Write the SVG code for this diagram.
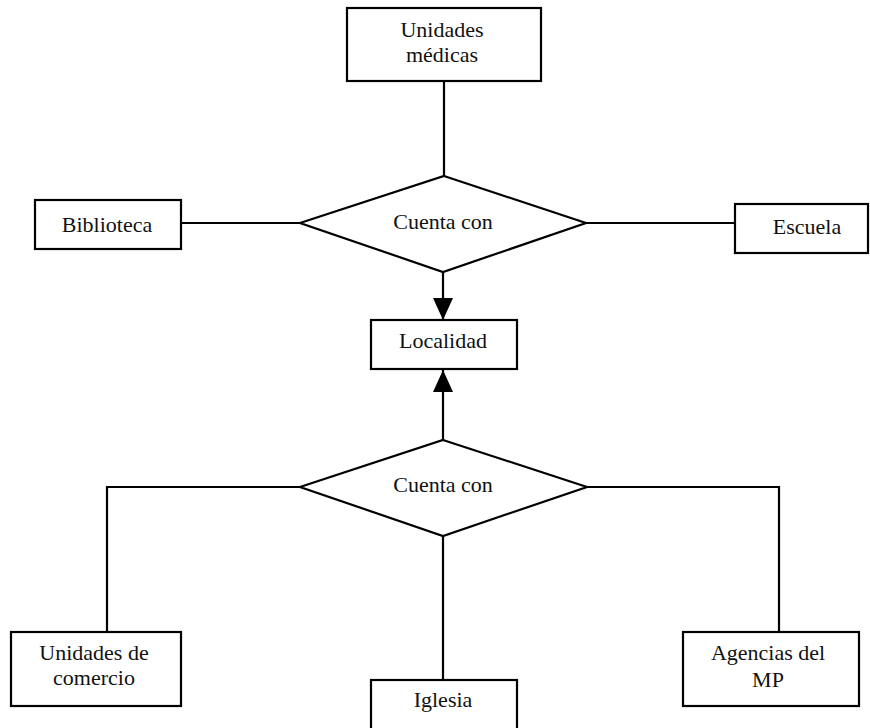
<svg xmlns="http://www.w3.org/2000/svg" width="870" height="728" viewBox="0 0 870 728">
  <style>
    .box { fill: #ffffff; stroke: #000000; stroke-width: 2.2; }
    .rel { fill: #ffffff; stroke: #000000; stroke-width: 2.2; }
    .link { fill: none; stroke: #000000; stroke-width: 2.2; }
    .label { font-family: 'Liberation Serif', 'DejaVu Serif', serif; font-size: 22px; fill: #111111; text-anchor: middle; }
  </style>
  <defs>
    <marker id="head" viewBox="0 0 22 20" refX="22" refY="10" markerWidth="22" markerHeight="20" markerUnits="userSpaceOnUse" orient="auto">
      <path d="M0,0 L22,10 L0,20 Z" fill="#000000"/>
    </marker>
  </defs>

  <g id="connectors">
    <!-- upper relationship -->
    <line class="link" x1="444" y1="81" x2="444" y2="176"/>
    <line class="link" x1="181" y1="223" x2="300" y2="223"/>
    <line class="link" x1="586" y1="223" x2="735" y2="223"/>
    <line class="link" x1="443" y1="272" x2="443" y2="320" marker-end="url(#head)"/>
    <!-- lower relationship -->
    <line class="link" x1="443" y1="440" x2="443" y2="370" marker-end="url(#head)"/>
    <polyline class="link" points="300,487 107,487 107,632"/>
    <line class="link" x1="443" y1="536" x2="443" y2="680"/>
    <polyline class="link" points="587,487 779,487 779,632"/>
  </g>

  <g id="unidades-medicas">
    <rect class="box" x="347" y="8" width="194" height="73"/>
    <text class="label" x="442" y="37">Unidades</text>
    <text class="label" x="442" y="62">médicas</text>
  </g>

  <g id="cuenta-con-1">
    <polygon class="rel" points="444,176 586,223 443,272 300,223"/>
    <text class="label" x="443" y="229">Cuenta con</text>
  </g>

  <g id="biblioteca">
    <rect class="box" x="35" y="200" width="146" height="49"/>
    <text class="label" x="107" y="232">Biblioteca</text>
  </g>

  <g id="escuela">
    <rect class="box" x="735" y="204" width="133" height="49"/>
    <text class="label" x="807" y="234">Escuela</text>
  </g>

  <g id="localidad">
    <rect class="box" x="371" y="320" width="146" height="49"/>
    <text class="label" x="443" y="348">Localidad</text>
  </g>

  <g id="cuenta-con-2">
    <polygon class="rel" points="443,440 587,487 443,536 300,487"/>
    <text class="label" x="443" y="492">Cuenta con</text>
  </g>

  <g id="unidades-comercio">
    <rect class="box" x="11" y="632" width="170" height="74"/>
    <text class="label" x="94" y="660">Unidades de</text>
    <text class="label" x="94" y="685">comercio</text>
  </g>

  <g id="iglesia">
    <rect class="box" x="371" y="680" width="146" height="60"/>
    <text class="label" x="443" y="707">Iglesia</text>
  </g>

  <g id="agencias-mp">
    <rect class="box" x="683" y="632" width="176" height="74"/>
    <text class="label" x="768" y="660">Agencias del</text>
    <text class="label" x="768" y="687">MP</text>
  </g>
</svg>
